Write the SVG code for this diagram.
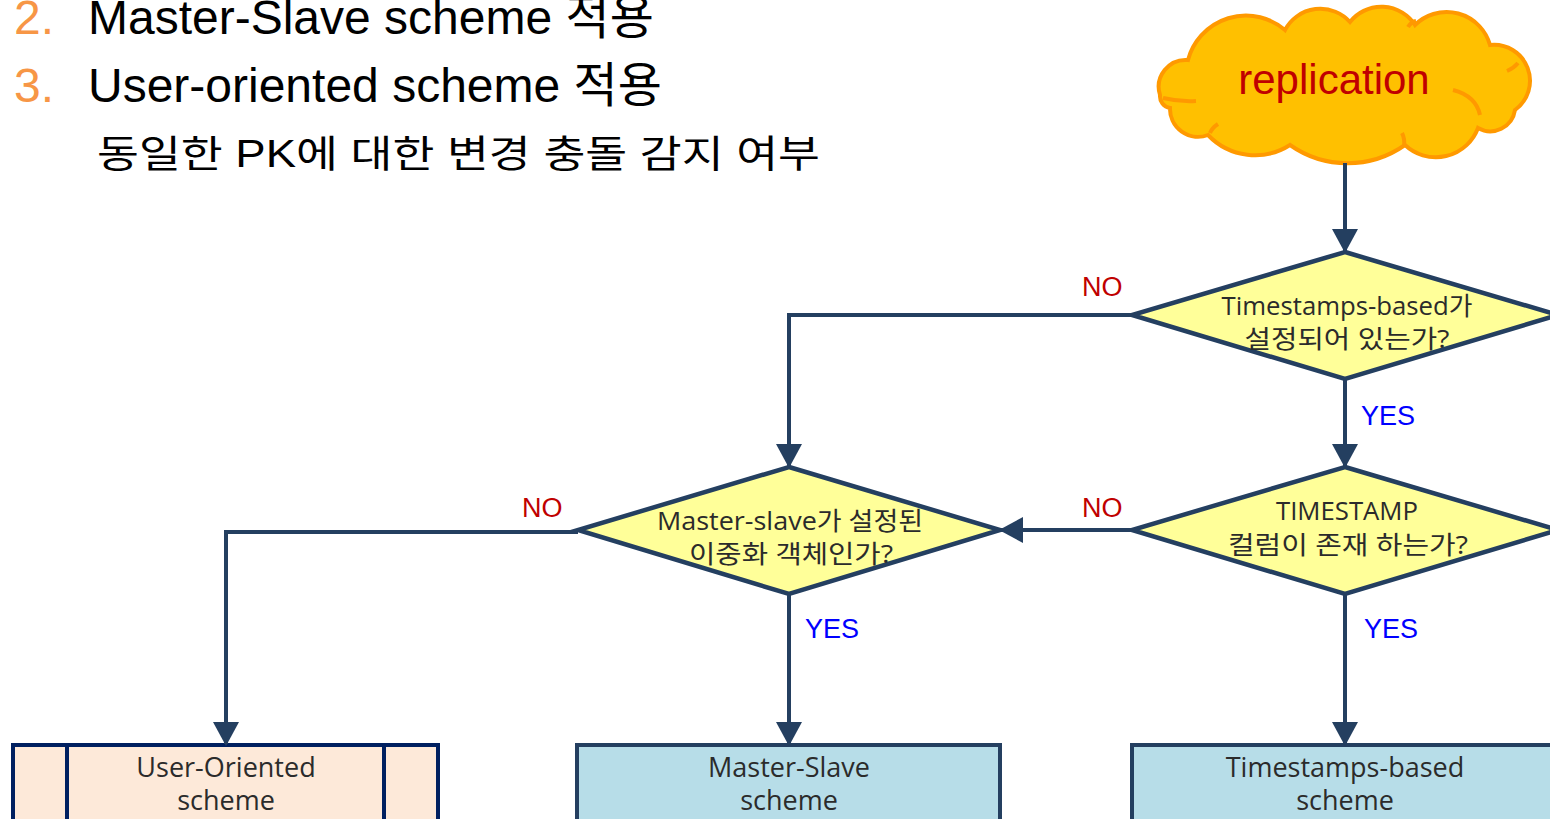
<svg xmlns="http://www.w3.org/2000/svg" width="1550" height="819" viewBox="0 0 1550 819">
<defs>
<marker id="arr" viewBox="0 0 24 26" refX="22" refY="13" markerWidth="24" markerHeight="26" markerUnits="userSpaceOnUse" orient="auto">
<path d="M0,0 L24,13 L0,26 z" fill="#243F60"/>
</marker>
<style>
.head{font-family:"Liberation Sans","Noto Sans CJK KR",sans-serif;font-size:48px;fill:#000}
.num{fill:#F79646}
.sub{font-family:"Liberation Sans","Noto Sans CJK KR",sans-serif;font-size:38px;fill:#000}
.dia{fill:#FFFF99;stroke:#243F60;stroke-width:4.5;stroke-linejoin:miter}
.dt{font-family:"Open Sans","Noto Sans CJK KR",sans-serif;font-size:25.5px;fill:#2b2b2b;text-anchor:middle}
.bt{font-family:"Open Sans","Noto Sans CJK KR",sans-serif;font-size:27px;fill:#2b2b2b;text-anchor:middle}
.con{fill:none;stroke:#243F60;stroke-width:4;marker-end:url(#arr)}
.no{font-family:"Liberation Sans",sans-serif;font-size:27px;fill:#C00000}
.yes{font-family:"Liberation Sans",sans-serif;font-size:27px;fill:#0000FF}
</style>
</defs>
<rect width="1550" height="819" fill="#fff"/>

<g id="title">
<text class="head" x="14" y="34"><tspan class="num">2.</tspan><tspan x="88">Master-Slave scheme 적용</tspan></text>
<text class="head" x="14" y="102"><tspan class="num">3.</tspan><tspan x="88">User-oriented scheme 적용</tspan></text>
<text class="sub" x="97" y="167" textLength="723" lengthAdjust="spacingAndGlyphs">동일한 PK에 대한 변경 충돌 감지 여부</text>
</g>

<g id="cloud">
<path d="M1160,95 A27,27 0 0 1 1188,60 A60,60 0 0 1 1285,30 A40,40 0 0 1 1350,22 A40,40 0 0 1 1415,25 A45,45 0 0 1 1490,45 A36,36 0 0 1 1515,110 A25,25 0 0 1 1478,128 A45,45 0 0 1 1405,145 A100,100 0 0 1 1290,145 A65,65 0 0 1 1208,135 A28,28 0 0 1 1170,108 A12,12 0 0 1 1160,95 z" fill="#FFC000" stroke="#FF9900" stroke-width="4"/>
<path d="M1163,98 Q1180,102 1196,101" fill="none" stroke="#FF9900" stroke-width="4"/>
<path d="M1210,133 Q1212,128 1218,124" fill="none" stroke="#FF9900" stroke-width="4"/>
<path d="M1408,27 Q1411,22 1416,21" fill="none" stroke="#FF9900" stroke-width="4"/>
<path d="M1507,71 Q1514,68 1518,63" fill="none" stroke="#FF9900" stroke-width="4"/>
<path d="M1453,90 Q1476,96 1480,115" fill="none" stroke="#FF9900" stroke-width="4"/>
<path d="M1404,146 Q1405,139 1402,133" fill="none" stroke="#FF9900" stroke-width="4"/>
<text x="1334" y="94" font-family="Liberation Sans, sans-serif" font-size="42" fill="#C00000" text-anchor="middle">replication</text>
</g>

<g id="d1">
<polygon class="dia" points="1345,252 1558,315 1345,379 1132,315"/>
<text class="dt" x="1347" y="315" textLength="251" lengthAdjust="spacingAndGlyphs">Timestamps-based가</text>
<text class="dt" x="1347" y="348" textLength="205" lengthAdjust="spacingAndGlyphs">설정되어 있는가?</text>
</g>

<g id="d2">
<polygon class="dia" points="1345,467 1558,530 1345,594 1132,530"/>
<text class="dt" x="1347" y="520" textLength="142" lengthAdjust="spacingAndGlyphs">TIMESTAMP</text>
<text class="dt" x="1348" y="554" textLength="240" lengthAdjust="spacingAndGlyphs">컬럼이 존재 하는가?</text>
</g>

<g id="d3">
<polygon class="dia" points="789,467 1000,530 789,594 578,530"/>
<text class="dt" x="790" y="530" textLength="266" lengthAdjust="spacingAndGlyphs">Master-slave가 설정된</text>
<text class="dt" x="791" y="563" textLength="204" lengthAdjust="spacingAndGlyphs">이중화 객체인가?</text>
</g>

<g id="b1">
<rect x="13" y="745" width="425" height="90" fill="#FDE9D9" stroke="#002060" stroke-width="4"/>
<line x1="67" y1="745" x2="67" y2="835" stroke="#002060" stroke-width="4"/>
<line x1="384" y1="745" x2="384" y2="835" stroke="#002060" stroke-width="4"/>
<text class="bt" x="226" y="777">User-Oriented</text>
<text class="bt" x="226" y="810">scheme</text>
</g>

<g id="b2">
<rect x="577" y="745" width="423" height="90" fill="#B7DDE8" stroke="#243F60" stroke-width="4"/>
<text class="bt" x="789" y="777">Master-Slave</text>
<text class="bt" x="789" y="810">scheme</text>
</g>

<g id="b3">
<rect x="1132" y="745" width="440" height="90" fill="#B7DDE8" stroke="#243F60" stroke-width="4"/>
<text class="bt" x="1345" y="777">Timestamps-based</text>
<text class="bt" x="1345" y="810">scheme</text>
</g>

<g id="connectors">
<path class="con" d="M1345,163 L1345,251"/>
<path class="con" d="M1132,315 L789,315 L789,466"/>
<path class="con" d="M1345,379 L1345,466"/>
<path class="con" d="M1132,530 L1001,530"/>
<path class="con" d="M578,532 L226,532 L226,744"/>
<path class="con" d="M789,594 L789,744"/>
<path class="con" d="M1345,594 L1345,744"/>
<text class="no" x="1082" y="296">NO</text>
<text class="yes" x="1361" y="425">YES</text>
<text class="no" x="1082" y="517">NO</text>
<text class="no" x="522" y="517">NO</text>
<text class="yes" x="805" y="638">YES</text>
<text class="yes" x="1364" y="638">YES</text>
</g>
</svg>
